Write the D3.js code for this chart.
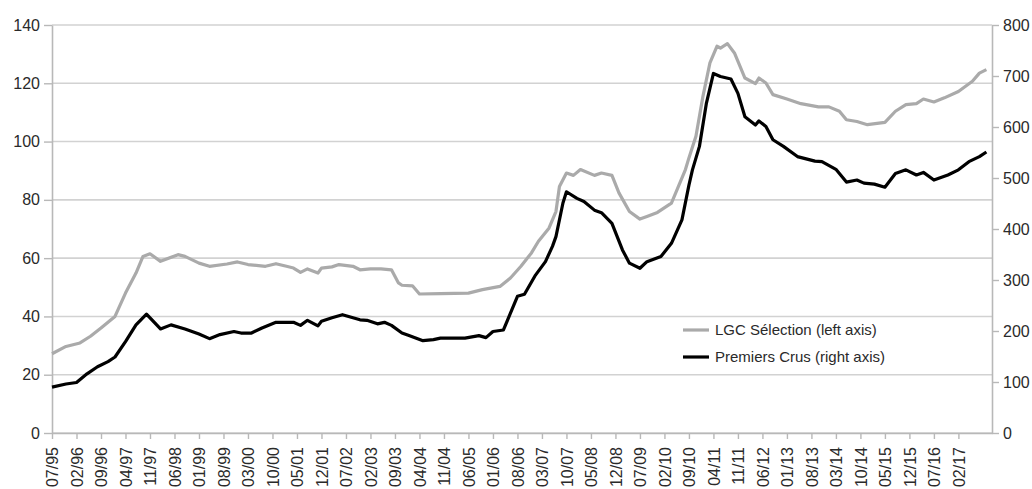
<!DOCTYPE html>
<html>
<head>
<meta charset="utf-8">
<script src="https://cdn.jsdelivr.net/npm/d3@7"></script>
<style>
  body { margin: 0; background: #fff; }
  svg text { font-family: "Liberation Sans", Arial, sans-serif; fill: #2a2a2a; }
</style>
</head>
<body>
<div id="chart"></div>
<script>
// x labels, one every 7 months starting 07/95
const monthLabels = ["07/95","02/96","09/96","04/97","11/97","06/98","01/99","08/99","03/00","10/00",
  "05/01","12/01","07/02","02/03","09/03","04/04","11/04","06/05","01/06","08/06","03/07","10/07",
  "05/08","12/08","07/09","02/10","09/10","04/11","11/11","06/12","01/13","08/13","03/14","10/14",
  "05/15","12/15","07/16","02/17"];
const leftTicks = [0, 20, 40, 60, 80, 100, 120, 140];
const rightTicks = [0, 100, 200, 300, 400, 500, 600, 700, 800];

// months counted from 07/95
const lgcMonth = [0,4,8,11,14,18,21,24,26,28,31,36,38,42,45,50,53,56,61,64,67,69,71,73,76,77,80,82,86,88,91,94,97,
  99,100,103,105,111,119,123,128,131,134,137,139,142,144,145,147,149,151,155,157,160,162,165,168,170,173,177,179,181,
  182,184,186,188,190,191,193,195,198,201,202,204,206,210,214,219,222,225,227,230,233,238,241,244,247,249,252,255,259,
  263,265,267];
const lgcValue = [27.2,29.7,30.9,33.2,36,40,48,54.9,60.6,61.5,58.9,61.2,60.6,58.3,57.2,58,58.7,57.8,57.2,58.1,57.2,56.6,
  55.1,56.3,54.9,56.6,57,57.8,57.2,56,56.3,56.3,56,51.5,50.7,50.5,47.7,47.8,48,49.2,50.3,53.2,57.2,61.8,65.8,70.3,76,
  84.6,89.2,88.4,90.4,88.4,89.2,88.4,82.4,76,73.4,74.3,75.7,78.9,84.6,90.4,94.4,101.8,115.5,127,132.7,132.1,133.6,130.4,
  121.8,119.9,121.8,120.1,116.1,114.6,113,111.9,111.9,110.4,107.5,106.9,105.8,106.6,110.4,112.7,113,114.6,113.6,115,
  117.2,120.7,123.5,124.7];

const pcMonth = [0,4,7,10,13,16,18,21,24,27,31,34,38,42,45,48,52,54,57,60,64,66,69,71,73,76,77,80,83,86,88,90,93,95,97,
  100,102,106,109,111,118,122,124,126,129,131,133,135,138,141,143,144,146,147,150,152,155,157,160,163,165,168,170,174,
  177,180,182,183,185,187,189,191,194,196,198,201,202,204,206,209,213,218,220,224,227,230,232,235,238,241,244,247,249,
  252,256,259,262,265,267];
const pcValue = [90,96,99,116,130,140,149,179,212,233,204,212,204,194,185,193,199,196,196,206,217,217,217,211,221,210,
  219,226,232,226,222,221,214,217,211,196,191,181,183,186,186,191,187,199,202,235,268,272,308,336,366,385,451,473,460,
  454,437,432,411,359,333,323,336,346,372,418,486,516,562,647,705,699,694,666,620,604,612,601,575,562,542,533,532,517,
  492,496,490,488,482,509,516,506,511,496,506,516,532,542,551];

const width = 1032, height = 489;
const margin = { top: 25, right: 40, bottom: 56, left: 52 };

const svg = d3.select("#chart").append("svg")
  .attr("width", width)
  .attr("height", height);

const x = d3.scaleLinear()
  .domain([0, 268.6])
  .range([margin.left, width - margin.right]);

const yL = d3.scaleLinear()
  .domain([0, 140])
  .range([height - margin.bottom, margin.top]);

const yR = d3.scaleLinear()
  .domain([0, 800])
  .range([height - margin.bottom, margin.top]);

// horizontal grid
svg.append("g")
  .selectAll("line")
  .data(leftTicks)
  .join("line")
  .attr("x1", margin.left)
  .attr("x2", width - margin.right)
  .attr("y1", d => yL(d))
  .attr("y2", d => yL(d))
  .attr("stroke", "#d2d2d2")
  .attr("stroke-width", 1.6);

const axisColor = "#b8b8b8";

const gLeft = svg.append("g")
  .attr("transform", `translate(${margin.left},0)`)
  .call(d3.axisLeft(yL).tickValues(leftTicks).tickSize(8).tickSizeOuter(0).tickPadding(4));

const gRight = svg.append("g")
  .attr("transform", `translate(${width - margin.right},0)`)
  .call(d3.axisRight(yR).tickValues(rightTicks).tickSize(7).tickSizeOuter(0).tickPadding(4));

const gBottom = svg.append("g")
  .attr("transform", `translate(0,${height - margin.bottom})`)
  .call(d3.axisBottom(x)
    .tickValues(monthLabels.map((d, i) => i * 7))
    .tickFormat((d, i) => monthLabels[i])
    .tickSize(6)
    .tickSizeOuter(0));

gBottom.selectAll("text")
  .attr("transform", "rotate(-90)")
  .attr("text-anchor", "end")
  .attr("x", -14)
  .attr("y", 0)
  .attr("dy", "0.35em")
  .style("font-size", "16px");

[gLeft, gRight].forEach(g => g.selectAll("text").style("font-size", "16px"));
[gLeft, gRight, gBottom].forEach(g => {
  g.attr("font-family", null);
  g.selectAll("path.domain").attr("stroke", axisColor).attr("stroke-width", 1.6);
  g.selectAll(".tick line").attr("stroke", axisColor).attr("stroke-width", 1.4);
});

const lgcData = lgcMonth.map((m, i) => [m, lgcValue[i]]);
const pcData = pcMonth.map((m, i) => [m, pcValue[i]]);

svg.append("path")
  .datum(lgcData)
  .attr("fill", "none")
  .attr("stroke", "#aaaaaa")
  .attr("stroke-width", 3.2)
  .attr("stroke-linejoin", "round")
  .attr("d", d3.line().x(d => x(d[0])).y(d => yL(d[1])));

svg.append("path")
  .datum(pcData)
  .attr("fill", "none")
  .attr("stroke", "#000")
  .attr("stroke-width", 3.2)
  .attr("stroke-linejoin", "round")
  .attr("d", d3.line().x(d => x(d[0])).y(d => yR(d[1])));

// legend
const legend = svg.append("g").attr("transform", "translate(683,330)");
const items = [
  { label: "LGC Sélection (left axis)", color: "#aaaaaa" },
  { label: "Premiers Crus (right axis)", color: "#000" }
];
items.forEach((d, i) => {
  legend.append("line")
    .attr("x1", 0).attr("x2", 26)
    .attr("y1", i * 27).attr("y2", i * 27)
    .attr("stroke", d.color)
    .attr("stroke-width", 3.2);
  legend.append("text")
    .attr("x", 32)
    .attr("y", i * 27)
    .attr("dy", "0.35em")
    .style("font-size", "15px")
    .text(d.label);
});
</script>
</body>
</html>
